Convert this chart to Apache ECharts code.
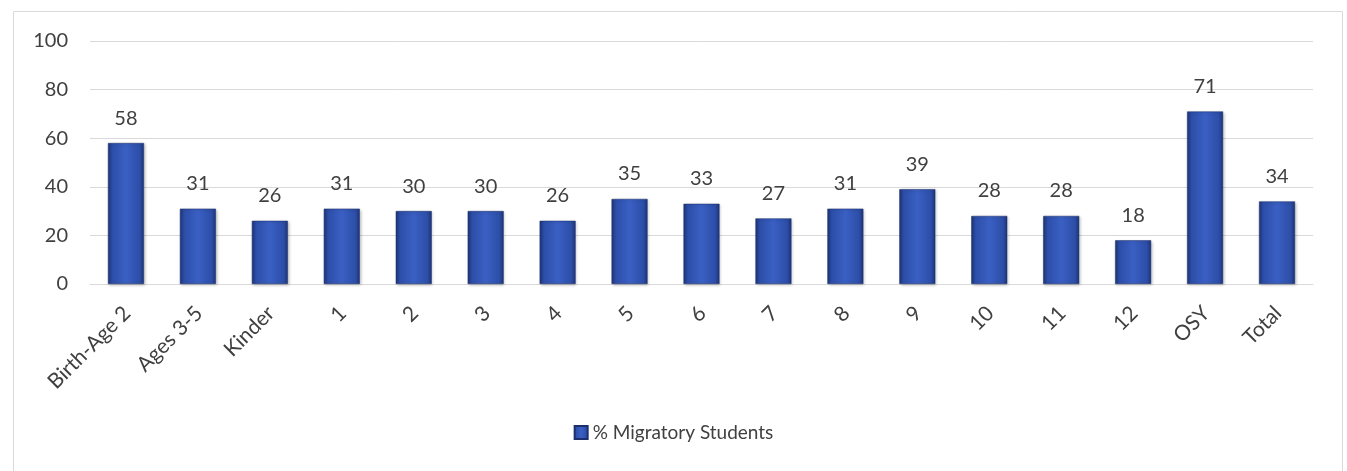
<!DOCTYPE html>
<html><head><meta charset="utf-8">
<script src="https://cdn.jsdelivr.net/npm/echarts@6/dist/echarts.min.js"></script>
<style>html,body{margin:0;padding:0;background:#fff}#c{width:1347px;height:471px}</style>
</head><body><div id="c"></div>
<script>
const categories = ["Birth-Age 2","Ages 3-5","Kinder","1","2","3","4","5","6","7","8","9","10","11","12","OSY","Total"];
const values = [58,31,26,31,30,30,26,35,33,27,31,39,28,28,18,71,34];
const yTicks = [0,20,40,60,80,100];
const seriesName = "% Migratory Students";

const font = "Lato, 'Open Sans', sans-serif";
const chart = echarts.init(document.getElementById('c'), null, {renderer:'canvas'});
const barColor = new echarts.graphic.LinearGradient(0,0,1,0,[
  {offset:0,color:'#1d3578'},
  {offset:0.12,color:'#2d4ea8'},
  {offset:0.5,color:'#3a60c4'},
  {offset:0.88,color:'#2d4ea8'},
  {offset:1,color:'#1d3578'}
]);
chart.setOption({
  animation:false,
  textStyle:{fontFamily:font},
  graphic:[{type:'rect',shape:{x:13.5,y:11.5,width:1329,height:470},style:{fill:'none',stroke:'#d9d9d9',lineWidth:1},z:-1}],
  grid:{left:90,right:34,top:41,bottom:187,containLabel:false},
  legend:{bottom:24,left:'center',itemWidth:13,itemHeight:13,icon:'rect',itemGap:8,
    textStyle:{fontSize:19,color:'#404040',fontFamily:font},data:[seriesName]},
  xAxis:{type:'category',data:categories,
    axisLine:{lineStyle:{color:'#d9d9d9',width:1}},axisTick:{show:false},
    axisLabel:{rotate:45,fontSize:21,color:'#404040',margin:12,interval:0,fontFamily:font,
      verticalAlign:'top',padding:[0,9,0,0]}},
  yAxis:{type:'value',min:0,max:100,interval:20,
    axisLine:{show:false},axisTick:{show:false},
    splitLine:{lineStyle:{color:'#d9d9d9',width:1}},
    axisLabel:{fontSize:20,color:'#404040',margin:22,fontFamily:font,
      formatter:v=>yTicks.includes(v)?String(v):''}},
  series:[{name:seriesName,type:'bar',data:values,barWidth:'50%',
    itemStyle:{color:barColor,borderColor:'#1a2f6b',borderWidth:0.5,
      shadowColor:'rgba(0,0,0,0.25)',shadowBlur:3,shadowOffsetX:1,shadowOffsetY:1},
    label:{show:true,position:'top',distance:15,fontSize:20,color:'#404040',fontFamily:font}}]
});
</script></body></html>
